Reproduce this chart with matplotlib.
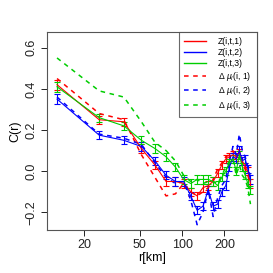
import numpy as np
import matplotlib
matplotlib.use("Agg")
import matplotlib.pyplot as plt

plt.rcParams['font.family'] = ['Liberation Sans', 'DejaVu Sans']
plt.rcParams['mathtext.fontset'] = 'custom'
plt.rcParams['mathtext.rm'] = 'Liberation Sans'
plt.rcParams['mathtext.it'] = 'Liberation Sans:italic'

r_km = [12.8 * k for k in range(1, 25)]

z1 = [0.42, 0.25, 0.24, 0.11, 0.03, -0.05, -0.05, -0.06, -0.10, -0.12, -0.08, -0.07,
      -0.05, -0.01, 0.03, 0.06, 0.07, 0.08, 0.07, 0.09, 0.05, 0.02, 0.00, -0.06]
z2 = [0.35, 0.175, 0.15, 0.12, 0.05, -0.02, -0.05, -0.05, -0.12, -0.19, -0.17, -0.09,
      -0.17, -0.16, -0.10, -0.07, 0.02, 0.07, 0.06, 0.10, 0.05, 0.06, 0.01, -0.04]
z3 = [0.41, 0.26, 0.22, 0.15, 0.11, 0.07, 0.02, -0.04, -0.06, -0.04, -0.04, -0.04,
      -0.05, -0.07, -0.03, 0.00, 0.04, 0.06, 0.00, 0.08, 0.02, -0.02, -0.06, -0.09]
z_err = [0.025, 0.02, 0.02, 0.02, 0.02, 0.02, 0.02, 0.02, 0.02, 0.02, 0.02, 0.02,
         0.02, 0.02, 0.02, 0.02, 0.02, 0.02, 0.02, 0.02, 0.02, 0.02, 0.02, 0.02]

d1 = [0.45, 0.28, 0.25, 0.08, -0.03, -0.12, -0.11, -0.06, -0.10, -0.12, -0.10, -0.08,
      -0.04, 0.01, 0.04, 0.07, 0.08, 0.10, 0.06, 0.10, 0.03, 0.01, -0.02, -0.07]
d2 = [0.36, 0.18, 0.16, 0.13, 0.04, -0.03, -0.06, -0.05, -0.14, -0.26, -0.20, -0.09,
      -0.22, -0.13, -0.07, -0.04, 0.05, 0.12, 0.08, 0.18, 0.10, 0.07, 0.02, -0.03]
d3 = [0.55, 0.39, 0.36, 0.24, 0.14, 0.10, 0.05, -0.02, -0.05, -0.04, -0.06, -0.05,
      -0.05, -0.06, -0.02, 0.02, 0.05, 0.06, -0.02, 0.03, -0.02, -0.04, -0.08, -0.16]

solid_labels = ['Z(i,t,1)', 'Z(i,t,2)', 'Z(i,t,3)']
dashed_labels = [r'Δ $\mu_l$(i, 1)', r'Δ $\mu_l$(i, 2)', r'Δ $\mu_l$(i, 3)']
colors = ['#FF0000', '#0000FF', '#00CD00']

fig = plt.figure(figsize=(2.73, 2.73), dpi=100)
ax = fig.add_axes([0.171, 0.158, 0.769, 0.724])

handles = []
for y, c, lab in zip([z1, z2, z3], colors, solid_labels):
    ax.errorbar(r_km, y, yerr=z_err, color=c, lw=0.8, elinewidth=0.8,
                capsize=2, capthick=0.8)
    h, = ax.plot([], [], color=c, lw=1.0, label=lab)
    handles.append(h)
for y, c, lab in zip([d1, d2, d3], colors, dashed_labels):
    h, = ax.plot(r_km, y, color=c, lw=1.1, ls=(0, (3, 3)), label=lab)
    handles.append(h)

ax.set_xscale('log')
ax.set_xlim(10.8, 340)
ax.set_ylim(-0.285, 0.675)
ax.set_xticks([20, 50, 100, 200])
ax.set_xticklabels(['20', '50', '100', '200'])
ax.xaxis.set_minor_locator(matplotlib.ticker.NullLocator())
ax.set_yticks([-0.2, 0.0, 0.2, 0.4, 0.6])
ax.set_yticklabels(['\u22120.2', '0.0', '0.2', '0.4', '0.6'], rotation=90, va='center')
ax.tick_params(labelsize=9, length=4.5, width=0.7, pad=2, colors='#222222')
for s in ax.spines.values():
    s.set_linewidth(0.8)
    s.set_color('#555555')
ax.set_xlabel('r[km]', fontsize=9, labelpad=1)
ax.set_ylabel('C(r)', fontsize=9, labelpad=3)

leg = ax.legend(handles=handles, loc='upper right', fontsize=6.2, frameon=True,
                fancybox=False, edgecolor='#444444', borderaxespad=0,
                handlelength=2.6, labelspacing=0.2, borderpad=0.6, handletextpad=1.4)
leg.get_frame().set_linewidth(0.8)

fig.savefig('out.png', dpi=100)
